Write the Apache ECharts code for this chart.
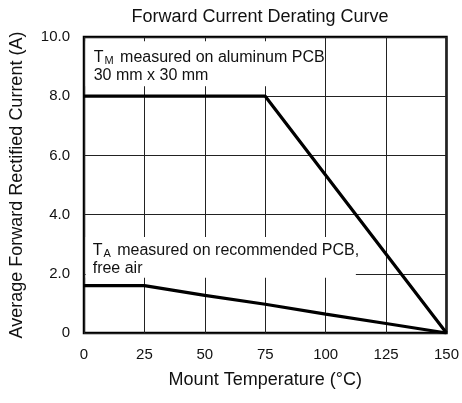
<!DOCTYPE html>
<html>
<head>
<meta charset="utf-8">
<title>Forward Current Derating Curve</title>
<script src="https://cdn.jsdelivr.net/npm/echarts@6/dist/echarts.min.js"></script>
<style>
  html, body { margin: 0; padding: 0; background: #fff; }
  #chart { width: 462px; height: 403px; }
</style>
</head>
<body>
<div id="chart"></div>
<script>
// T_M curve (aluminum PCB)
const mTemp = [0, 75, 150]
const mCurrent = [8.0, 8.0, 0]
// T_A curve (recommended PCB, free air)
const aTemp = [0, 25, 50, 75, 100, 125, 150]
const aCurrent = [1.6, 1.6, 1.27, 0.97, 0.64, 0.32, 0]
// axis ticks
const xTicks = [0, 25, 50, 75, 100, 125, 150]
const yTicks = ['0', '2.0', '4.0', '6.0', '8.0', '10.0']

const FONT = '"Liberation Sans", Arial, Helvetica, sans-serif'
const toPairs = (xs, ys) => xs.map((x, i) => [x, ys[i]])

const chart = echarts.init(document.getElementById('chart'))

const noteRich = {
  n: { fontFamily: FONT, fontSize: 16, lineHeight: 18, color: '#111' },
  s: { fontFamily: FONT, fontSize: 11, lineHeight: 18, color: '#111', verticalAlign: 'bottom', padding: [0, 2, 0, 1] }
}

chart.setOption({
  animation: false,
  backgroundColor: '#fff',
  title: {
    text: 'Forward Current Derating Curve',
    left: 255,
    top: 3,
    textAlign: 'center',
    textStyle: { fontFamily: FONT, fontSize: 18, fontWeight: 'normal', color: '#111' }
  },
  grid: {
    left: 84, right: 15, top: 37, bottom: 70,
    show: true, borderColor: '#000', borderWidth: 2.5, backgroundColor: 'transparent'
  },
  xAxis: [
    {
      type: 'value',
      min: 0, max: 150, interval: 25,
      name: 'Mount Temperature (°C)',
      nameLocation: 'middle',
      nameGap: 38,
      nameTextStyle: { fontFamily: FONT, fontSize: 18, color: '#111' },
      axisLine: { show: false },
      axisTick: { show: false },
      axisLabel: {
        margin: 14, fontFamily: FONT, fontSize: 15, color: '#111',
        formatter: v => String(xTicks[xTicks.indexOf(v)])
      },
      splitLine: { show: true, lineStyle: { color: '#222', width: 1 } }
    },
    {
      type: 'value',
      position: 'top',
      min: 0, max: 150, interval: 25,
      axisLine: { show: false },
      axisTick: { show: true, inside: true, length: 4, lineStyle: { color: '#222', width: 1 } },
      axisLabel: { show: false },
      splitLine: { show: false }
    }
  ],
  yAxis: {
    type: 'value',
    min: 0, max: 10, interval: 2,
    name: 'Average Forward Rectified Current (A)',
    nameLocation: 'middle',
    nameGap: 58,
    nameTextStyle: { fontFamily: FONT, fontSize: 18, color: '#111' },
    axisLine: { show: false },
    axisTick: { show: false },
    axisLabel: {
      margin: 14, fontFamily: FONT, fontSize: 15, color: '#111',
      formatter: v => yTicks[Math.round(v / 2)]
    },
    splitLine: { show: true, lineStyle: { color: '#222', width: 1 } }
  },
  series: [
    {
      // white boxes behind the notes, hiding the grid lines
      type: 'line',
      data: [],
      z: 1,
      silent: true,
      markArea: {
        silent: true,
        itemStyle: { color: '#fff' },
        data: [
          [
            {
              coord: [0.7, 9.86],
              label: {
                show: true,
                position: 'insideTopLeft',
                distance: 7,
                offset: [1, 0],
                formatter: '{n|T}{s|M}{n| measured on aluminum PCB}\n{n|30 mm x 30 mm}',
                rich: noteRich
              }
            },
            { coord: [99.3, 8.34] }
          ],
          [
            {
              coord: [0.7, 3.24],
              label: {
                show: true,
                position: 'insideTopLeft',
                distance: 4,
                offset: [3, 0],
                formatter: '{n|T}{s|A}{n| measured on recommended PCB,}\n{n|free air}',
                rich: noteRich
              }
            },
            { coord: [112.5, 1.87] }
          ]
        ]
      }
    },
    {
      type: 'line',
      data: toPairs(mTemp, mCurrent),
      z: 3,
      symbol: 'none',
      lineStyle: { color: '#000', width: 3.2 }
    },
    {
      type: 'line',
      data: toPairs(aTemp, aCurrent),
      z: 3,
      symbol: 'none',
      lineStyle: { color: '#000', width: 3.2 }
    }
  ]
})
</script>
</body>
</html>
